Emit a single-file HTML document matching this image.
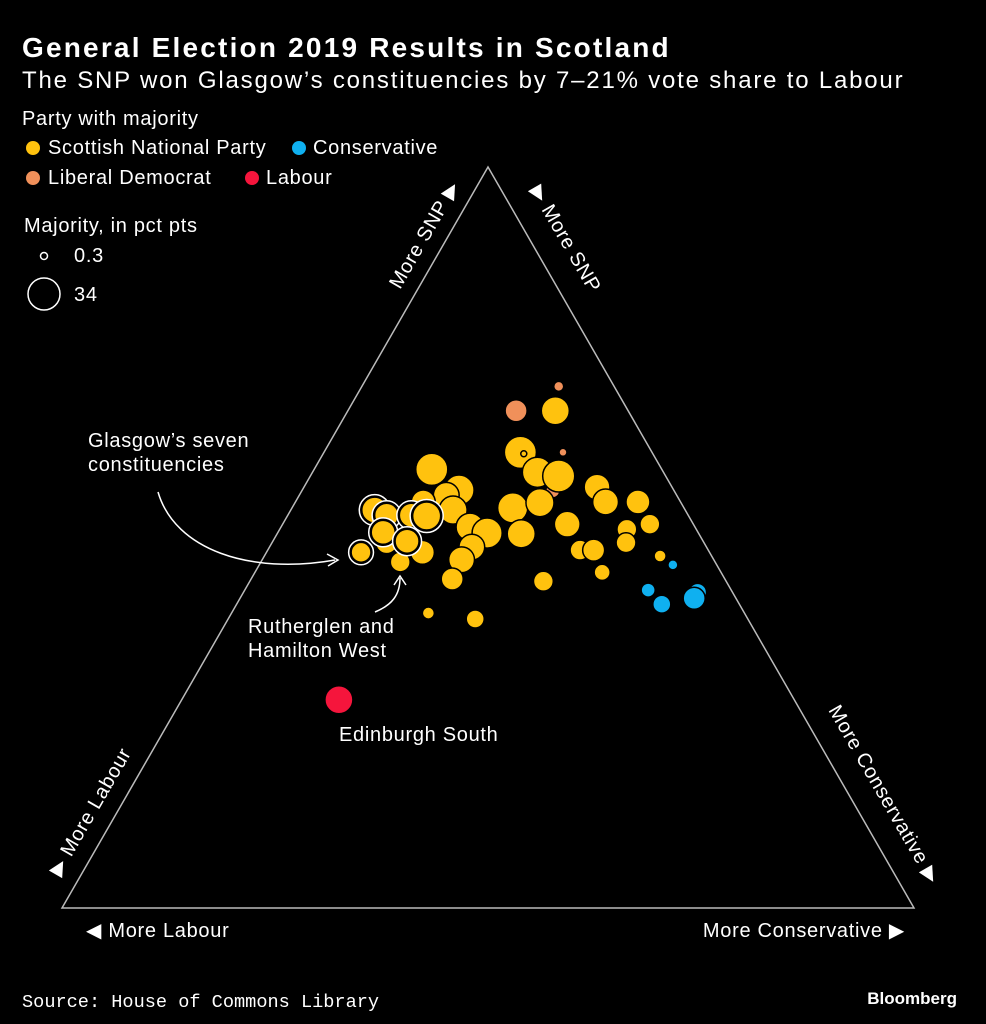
<!DOCTYPE html>
<html><head><meta charset="utf-8"><style>
html,body{margin:0;padding:0;background:#000;}
svg{display:block;font-family:"Liberation Sans",sans-serif;}
.t{font-size:20px;letter-spacing:0.7px;fill:#fff;}
</style></head><body>
<svg width="986" height="1024" viewBox="0 0 986 1024">
<rect width="986" height="1024" fill="#000"/>
<text x="22" y="57" fill="#fff" font-size="28" font-weight="bold" letter-spacing="2.2">General Election 2019 Results in Scotland</text>
<text x="22" y="88" fill="#fff" font-size="24" letter-spacing="1.8">The SNP won Glasgow’s constituencies by 7–21% vote share to Labour</text>
<text class="t" x="22" y="125">Party with majority</text>
<g><circle cx="33" cy="148" r="7" fill="#ffc20e"/><text class="t" x="48" y="154">Scottish National Party</text></g>
<g><circle cx="299" cy="148" r="7" fill="#0fb0f0"/><text class="t" x="313" y="154">Conservative</text></g>
<g><circle cx="33" cy="178" r="7" fill="#f0905a"/><text class="t" x="48" y="184">Liberal Democrat</text></g>
<g><circle cx="252" cy="178" r="7" fill="#f5153c"/><text class="t" x="266" y="184">Labour</text></g>
<text class="t" x="24" y="232">Majority, in pct pts</text>
<g><circle cx="44" cy="256" r="3.5" fill="none" stroke="#fff" stroke-width="1.5"/><text class="t" x="74" y="262">0.3</text></g>
<g><circle cx="44" cy="294" r="16" fill="none" stroke="#fff" stroke-width="1.5"/><text class="t" x="74" y="301">34</text></g>

<polygon points="488,167 62,908 914,908" fill="none" stroke="#bbb" stroke-width="1.5"/>

<text class="t" transform="translate(400,290) rotate(-60)">More SNP ▶</text>
<text class="t" transform="translate(530,190) rotate(60)">▶ More SNP</text>
<text class="t" transform="translate(60,877) rotate(-60)">▶ More Labour</text>
<text class="t" transform="translate(828,710) rotate(60)">More Conservative ▶</text>
<text class="t" x="86" y="937">◀ More Labour</text>
<text class="t" x="905" y="937" text-anchor="end">More Conservative ▶</text>

<g id="points"></g>

<g>
<text class="t" x="88" y="447">Glasgow’s seven</text>
<text class="t" x="88" y="471">constituencies</text>
<path d="M158,492 C175,550 250,575 335,560" fill="none" stroke="#fff" stroke-width="1.5"/>
<path d="M327,554 L338,560 L328,566" fill="none" stroke="#fff" stroke-width="1.5"/>
</g>
<g>
<text class="t" x="248" y="633">Rutherglen and</text>
<text class="t" x="248" y="657">Hamilton West</text>
<path d="M375,612 C392,605 400,595 400,578" fill="none" stroke="#fff" stroke-width="1.5"/>
<path d="M394,585 L400,576 L406,585" fill="none" stroke="#fff" stroke-width="1.5"/>
</g>
<text class="t" x="339" y="741">Edinburgh South</text>

<text x="22" y="1007" fill="#fff" font-size="18.6" font-family="Liberation Mono, monospace">Source: House of Commons Library</text>
<text x="957" y="1004" fill="#fff" font-size="17" font-weight="bold" text-anchor="end">Bloomberg</text>
</svg>
<script>
// horizontal position (0=Labour corner, 100=Conservative corner), height (0=base, 100=SNP apex)
const posX = [58.3,53.3,57.9,53.8,58.8,43.4,55.8,57.6,58.3,46.6,45.1,62.8,63.8,67.6,45.9,52.9,56.1,42.4,47.9,49.9,53.9,59.3,69.0,66.3,66.2,60.8,62.4,48.1,46.9,45.8,56.5,63.4,70.2,43.0,48.5,42.3,39.7,38.1,54.2,71.7,68.8,70.4,74.6,74.2,32.5,36.7,38.1,41.0,42.8,37.7,40.5,35.1];
const posY = [70.4,67.1,67.1,61.5,61.5,59.2,58.8,56.3,58.3,56.4,55.7,56.8,54.8,54.8,53.7,54.0,54.7,54.8,51.4,50.6,50.5,51.8,51.8,51.1,49.3,48.3,48.3,48.7,47.0,44.4,44.1,45.3,47.5,39.8,39.0,48.0,46.7,49.3,61.3,46.3,42.9,41.0,42.6,41.8,28.1,53.7,53.0,53.0,52.9,50.7,49.5,48.0];
const majority = [3.3,16,26,34,2.1,34,30,6.5,34,30,22,22,22,19,26,30,26,19,26,30,26,22,13,13,13,13,16,22,22,16,13,8.5,4.8,4.8,10.7,19,13,16,1.2,3.3,6.5,10.7,10.7,16,26,22,19,19,26,19,19,13];
const party = ["LD","LD","SNP","SNP","LD","SNP","SNP","LD","SNP","SNP","SNP","SNP","SNP","SNP","SNP","SNP","SNP","SNP","SNP","SNP","SNP","SNP","SNP","SNP","SNP","SNP","SNP","SNP","SNP","SNP","SNP","SNP","SNP","SNP","SNP","SNP","SNP","SNP","SNP","CON","CON","CON","CON","CON","LAB","SNP","SNP","SNP","SNP","SNP","SNP","SNP"];
const glasgow = [0,0,0,0,0,0,0,0,0,0,0,0,0,0,0,0,0,0,0,0,0,0,0,0,0,0,0,0,0,0,0,0,0,0,0,0,0,0,0,0,0,0,0,0,0,1,1,1,1,1,1,1];
const colors = {SNP:"#ffc20e",CON:"#0fb0f0",LD:"#f0905a",LAB:"#f5153c"};
function xScale(v){return 62 + v*8.52;}
function yScale(v){return 908 - v*7.41;}
function rScale(m){return Math.sqrt(m)*2.75;}
const NS="http://www.w3.org/2000/svg";
const layer=document.getElementById("points");
for(let i=0;i<posX.length;i++){
  const cx=xScale(posX[i]), cy=yScale(posY[i]), r=rScale(majority[i]);
  if(glasgow[i]){
    const ring=document.createElementNS(NS,"circle");
    ring.setAttribute("cx",cx);ring.setAttribute("cy",cy);ring.setAttribute("r",r+2.5);
    ring.setAttribute("fill","#000");ring.setAttribute("stroke","#fff");ring.setAttribute("stroke-width","1.5");
    
    
    layer.appendChild(ring);
  }
  const c=document.createElementNS(NS,"circle");
  c.setAttribute("cx",cx);c.setAttribute("cy",cy);c.setAttribute("r",r);
  c.setAttribute("fill",colors[party[i]]);c.setAttribute("stroke","#000");c.setAttribute("stroke-width","1.5");
  
  
  layer.appendChild(c);
}
</script>
</body></html>
